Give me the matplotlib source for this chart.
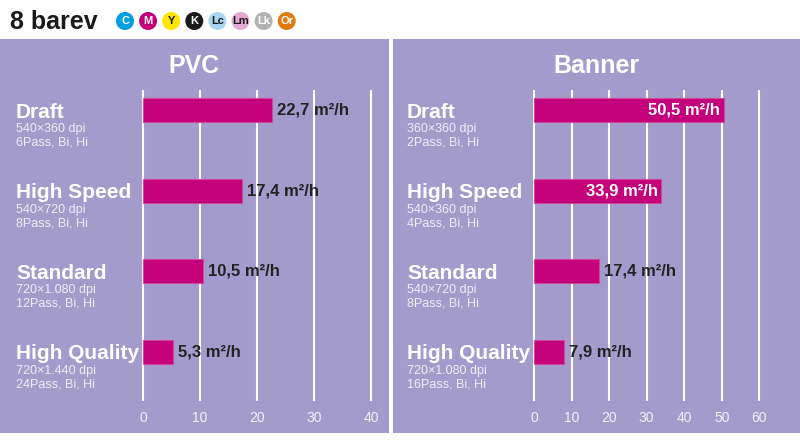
import matplotlib
matplotlib.use("Agg")
from matplotlib import pyplot as plt
from matplotlib.patches import Rectangle, Circle

plt.rcParams['font.family'] = ['Liberation Sans', 'DejaVu Sans']

# data
modes = ["Draft", "High Speed", "Standard", "High Quality"]
pvc_values = [22.7, 17.4, 10.5, 5.3]
pvc_res = ["540×360 dpi", "540×720 dpi", "720×1.080 dpi", "720×1.440 dpi"]
pvc_pass = ["6Pass, Bi, Hi", "8Pass, Bi, Hi", "12Pass, Bi, Hi", "24Pass, Bi, Hi"]
pvc_inside = [False, False, False, False]
banner_values = [50.5, 33.9, 17.4, 7.9]
banner_res = ["360×360 dpi", "540×360 dpi", "540×720 dpi", "720×1.080 dpi"]
banner_pass = ["2Pass, Bi, Hi", "4Pass, Bi, Hi", "8Pass, Bi, Hi", "16Pass, Bi, Hi"]
banner_inside = [True, True, False, False]
inks = ["C", "M", "Y", "K", "Lc", "Lm", "Lk", "Or"]
ink_colors = ["#00a0e0", "#c4007a", "#ffe500", "#1a1a1a", "#a9d6f2", "#e3a9d3", "#b3b3b3", "#e07b12"]
ink_text = ["white", "white", "#1a1a1a", "white", "#1a1a1a", "#1a1a1a", "white", "white"]

PANEL = "#a39bcb"
BAR = "#c4007a"
W, H = 800, 441

fig = plt.figure(figsize=(8, 4.41), dpi=100)
bg = fig.add_axes([0, 0, 1, 1])
bg.set_xlim(0, W)
bg.set_ylim(H, 0)
bg.axis("off")

# panels
bg.add_patch(Rectangle((0, 39), 389, 394, color=PANEL, lw=0))
bg.add_patch(Rectangle((393, 39), 407, 394, color=PANEL, lw=0))

# header
bg.text(10, 22, "8 barev", fontsize=18, fontweight="bold", color="#1a1a1a",
        va="center", ha="left")
for i, (name, c, tc) in enumerate(zip(inks, ink_colors, ink_text)):
    cx = 125 + i * 23.1
    bg.add_patch(Circle((cx, 21), 9, color=c, lw=0))
    bg.text(cx, 21.5, name, fontsize=8, fontweight="bold", color=tc,
            ha="center", va="center")


def panel(title, title_x, label_x, x0_px, xmax_px, xmax, values, res, passes, inside):
    top, bottom = 90, 401
    step = 80.6
    first = 110
    ppu = (xmax_px - x0_px) / xmax
    left_px = x0_px - ppu
    width_px = (xmax + 2) * ppu
    ax = fig.add_axes([left_px / W, (H - bottom) / H, width_px / W, (bottom - top) / H])
    ax.set_facecolor("none")
    ax.set_xlim(-1, xmax + 1)
    ax.set_ylim((bottom - first) / step, (top - first) / step)
    for s in ax.spines.values():
        s.set_visible(False)
    ax.set_yticks([])
    ax.set_xticks(range(0, xmax + 1, 10))
    ax.tick_params(axis="x", length=0, labelsize=10, labelcolor="#f2f1f8", pad=7)
    ax.grid(axis="x", color="white", lw=1.5)
    ax.set_axisbelow(True)

    ys = range(len(values))
    ax.barh(ys, values, height=24 / step, color=BAR, edgecolor="#d2479c", lw=0.8, zorder=3)

    for y, v, name, r, p, ins in zip(ys, values, modes, res, passes, inside):
        txt = "{:.1f}".format(v).replace(".", ",") + " m²/h"
        if ins:
            ax.annotate(txt, (v, y), xytext=(-2.5, 0), textcoords="offset points",
                        ha="right", va="center", fontsize=12, fontweight="bold",
                        color="white", zorder=4)
        else:
            ax.annotate(txt, (v, y), xytext=(3.5, 0), textcoords="offset points",
                        ha="left", va="center", fontsize=12, fontweight="bold",
                        color="#222222", zorder=4, annotation_clip=False)
        ax.annotate(name, (label_x, y), xycoords=("figure pixels", "data"),
                    xytext=(0, -5.5), textcoords="offset points", ha="left",
                    va="baseline", fontsize=15, fontweight="bold", color="white",
                    annotation_clip=False)
        ax.annotate(r, (label_x, y), xycoords=("figure pixels", "data"),
                    xytext=(0, -13.8), textcoords="offset points", ha="left",
                    va="center", fontsize=9, color="#eeedf6", annotation_clip=False)
        ax.annotate(p, (label_x, y), xycoords=("figure pixels", "data"),
                    xytext=(0, -23.6), textcoords="offset points", ha="left",
                    va="center", fontsize=9, color="#eeedf6", annotation_clip=False)

    bg.text(title_x, 66, title, fontsize=18, fontweight="bold", color="white",
            ha="center", va="center")
    return ax


panel("PVC", 194, 16, 143, 371, 40, pvc_values, pvc_res, pvc_pass, pvc_inside)
panel("Banner", 596, 407, 534, 759.3, 60, banner_values, banner_res, banner_pass, banner_inside)

fig.savefig("out.png", dpi=100)
